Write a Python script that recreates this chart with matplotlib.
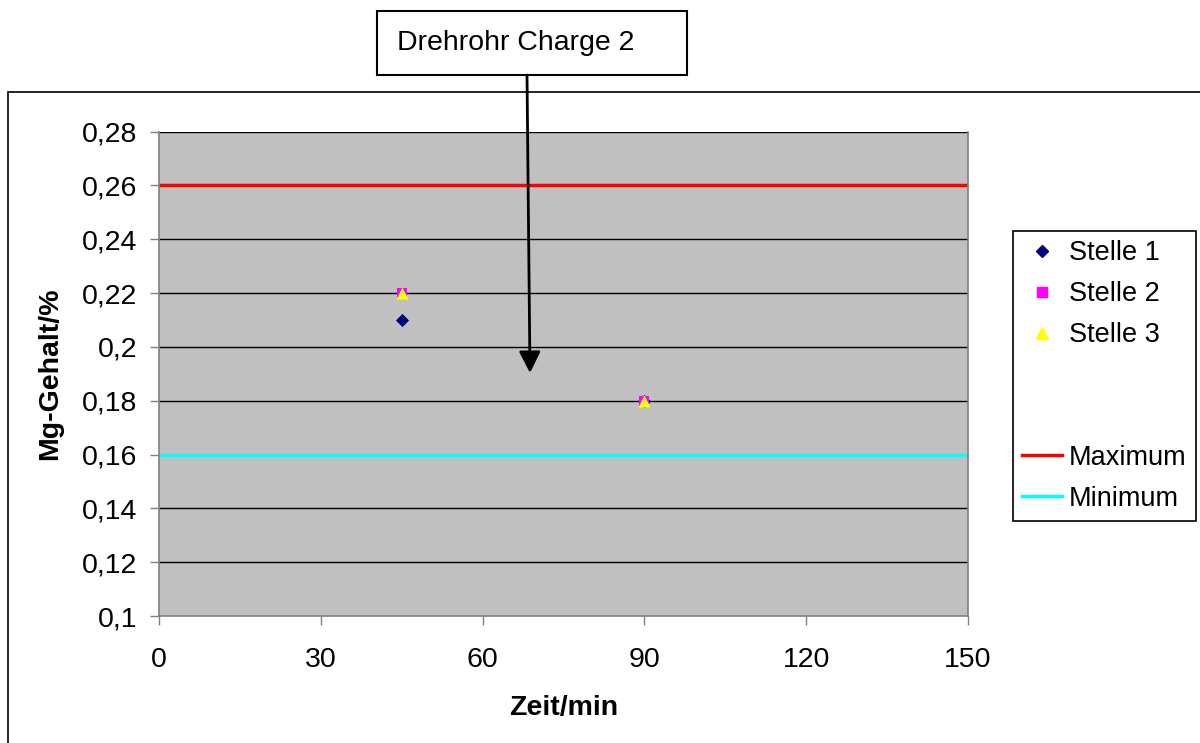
import matplotlib
matplotlib.use("Agg")
import matplotlib.pyplot as plt
from matplotlib.lines import Line2D
from matplotlib.patches import Rectangle, FancyArrowPatch

plt.rcParams['font.family'] = ['Liberation Sans', 'DejaVu Sans']

# Measurement times (min) and Mg content (%) at the three sampling points
zeit = [45, 90]
stelle1 = [0.21, 0.18]
stelle2 = [0.22, 0.18]
stelle3 = [0.22, 0.18]

# Specification limits
maximum = 0.26
minimum = 0.16

x_ticks = [0, 30, 60, 90, 120, 150]
y_ticks = [0.10, 0.12, 0.14, 0.16, 0.18, 0.20, 0.22, 0.24, 0.26, 0.28]
y_labels = ["0,1", "0,12", "0,14", "0,16", "0,18", "0,2", "0,22", "0,24", "0,26", "0,28"]

FS = 20.5
W, H = 1200, 743
fig = plt.figure(figsize=(W / 100, H / 100), dpi=100)
ax = fig.add_axes([159 / W, 1 - 616 / H, (968 - 159) / W, (616 - 131.5) / H])

ax.set_facecolor("#C0C0C0")
ax.set_xlim(x_ticks[0], x_ticks[-1])
ax.set_ylim(y_ticks[0], y_ticks[-1])

for y in y_ticks[1:]:
    ax.axhline(y, color="black", lw=1.0, zorder=1)

ax.axhline(maximum, color="#FF0000", lw=2.5, zorder=2)
ax.axhline(minimum, color="#00FFFF", lw=2.5, zorder=2)

ax.scatter(zeit, stelle1, marker="D", s=45, color="#000080", zorder=3, linewidths=0)
ax.scatter(zeit, stelle2, marker="s", s=60, color="#FF00FF", zorder=3, linewidths=0)
ax.scatter(zeit, stelle3, marker="^", s=75, color="#FFFF00", zorder=4, linewidths=0)

ax.set_xticks(x_ticks)
ax.set_xticklabels([str(v) for v in x_ticks])
ax.set_yticks(y_ticks)
ax.set_yticklabels(y_labels)
ax.tick_params(axis="both", direction="out", length=6.5, width=1, color="#808080",
               labelsize=FS)
ax.tick_params(axis="y", pad=9)
ax.tick_params(axis="x", pad=16)
for side in ["left", "bottom", "right", "top"]:
    ax.spines[side].set_color("#808080")
    ax.spines[side].set_linewidth(1.2)
ax.spines["top"].set_visible(False)

ax.set_xlabel("Zeit/min", fontsize=FS, fontweight="bold", labelpad=16)
ax.set_ylabel("Mg-Gehalt/%", fontsize=FS, fontweight="bold", labelpad=14)

# Outer chart frame
fig.patches.append(Rectangle((8 / W, -0.1), 1.2, 1 - 92 / H + 0.1, transform=fig.transFigure,
                             fill=False, edgecolor="black", lw=1.2, zorder=0))

# Legend, with two empty rows between the points and the limit lines
blank = Line2D([], [], linestyle="none", marker=None)
handles = [
    Line2D([], [], linestyle="none", marker="D", markersize=6, color="#000080"),
    Line2D([], [], linestyle="none", marker="s", markersize=7, color="#FF00FF"),
    Line2D([], [], linestyle="none", marker="^", markersize=8, color="#FFFF00"),
    blank, blank,
    Line2D([], [], color="#FF0000", lw=2.5),
    Line2D([], [], color="#00FFFF", lw=2.5),
]
labels = ["Stelle 1", "Stelle 2", "Stelle 3", " ", " ", "Maximum", "Minimum"]
leg = fig.legend(handles, labels, loc="upper left",
                 bbox_to_anchor=(1013 / W, 1 - 231 / H),
                 bbox_transform=fig.transFigure,
                 fontsize=19.5, frameon=True, fancybox=False, framealpha=1,
                 edgecolor="black", handlelength=1.45, handletextpad=0.25,
                 labelspacing=0.55, borderpad=0.35, borderaxespad=0)
leg.get_frame().set_linewidth(1.2)

# Title box with arrow
fig.patches.append(Rectangle((377 / W, 1 - 75 / H), (687 - 377) / W, (75 - 11) / H,
                             transform=fig.transFigure, facecolor="white",
                             edgecolor="black", lw=1.5, zorder=5))
fig.text(397 / W, 1 - 43 / H, "Drehrohr Charge 2", fontsize=FS, va="center",
         ha="left", zorder=6)
fig.add_artist(FancyArrowPatch(
    (527 / W, 1 - 75 / H), (530 / W, 1 - 373 / H), transform=fig.transFigure,
    arrowstyle="-|>,head_length=1.0,head_width=0.5", mutation_scale=13,
    color="black", lw=2, zorder=6, shrinkA=0, shrinkB=0))

fig.savefig("out.png", dpi=100, facecolor="white")
